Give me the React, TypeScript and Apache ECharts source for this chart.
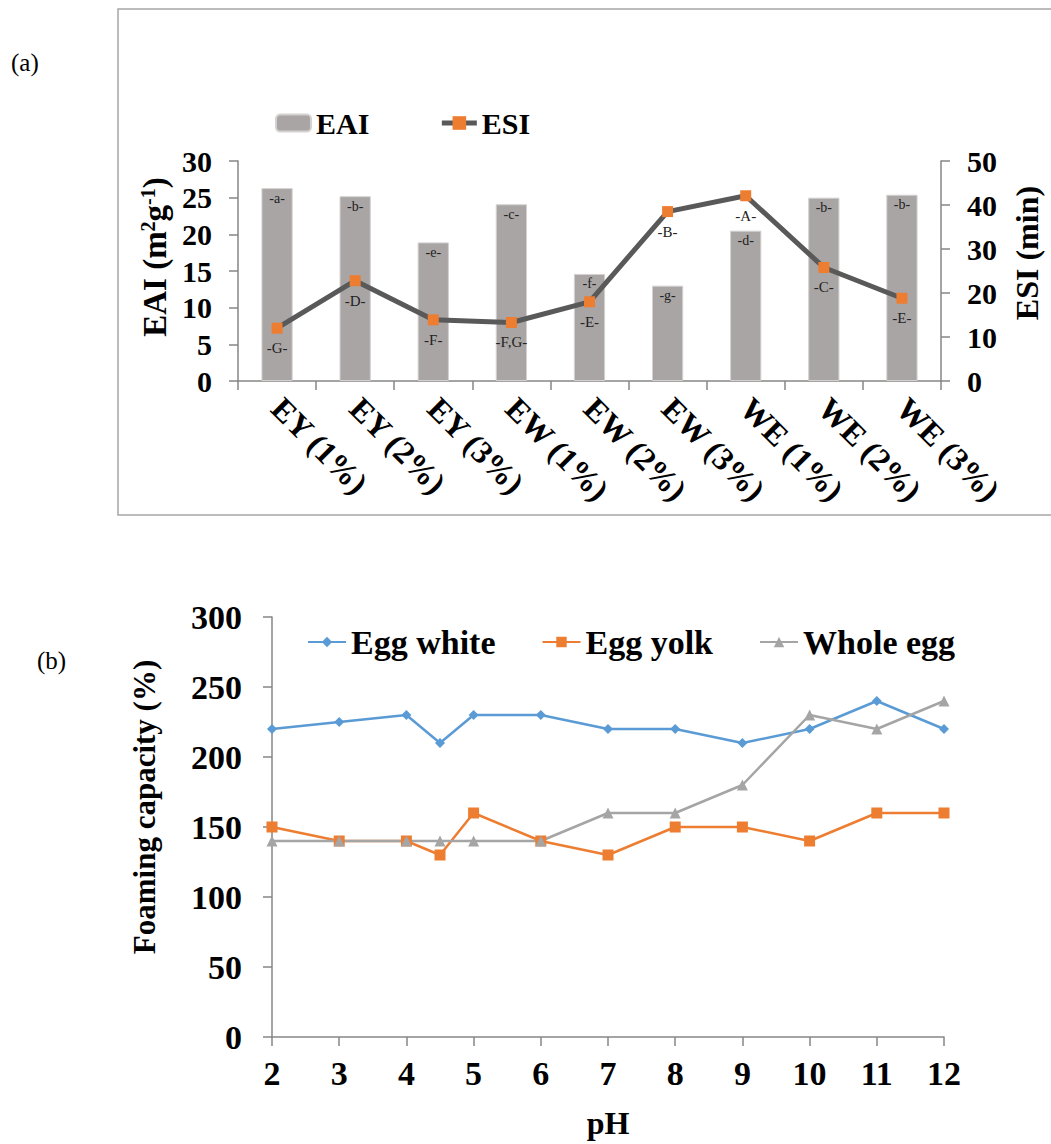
import React, { useEffect, useRef } from "react";
import * as echarts from "echarts";

// Panel (a): emulsifying activity (EAI, bars) and stability (ESI, line)
const categories = ["EY (1%)", "EY (2%)", "EY (3%)", "EW (1%)", "EW (2%)", "EW (3%)", "WE (1%)", "WE (2%)", "WE (3%)"];
const eaiValues = [26.3, 25.2, 18.9, 24.1, 14.6, 13.0, 20.5, 25.0, 25.4];
const esiValues = [12.0, 22.8, 13.9, 13.3, 18.0, 38.5, 42.1, 25.8, 18.8];
const eaiLetters = ["-a-", "-b-", "-e-", "-c-", "-f-", "-g-", "-d-", "-b-", "-b-"];
const esiLetters = ["-G-", "-D-", "-F-", "-F,G-", "-E-", "-B-", "-A-", "-C-", "-E-"];

// Panel (b): foaming capacity against pH
const phValues = [2, 3, 4, 4.5, 5, 6, 7, 8, 9, 10, 11, 12];
const eggWhite = [220, 225, 230, 210, 230, 230, 220, 220, 210, 220, 240, 220];
const eggYolk = [150, 140, 140, 130, 160, 140, 130, 150, 150, 140, 160, 160];
const wholeEgg = [140, 140, 140, 140, 140, 140, 160, 160, 180, 230, 220, 240];

const FONT = "'Liberation Serif', 'Times New Roman', serif";
const AXIS_GREY = "#868686";
const ESI_LINE = "#595959";

const pairs = (ys: number[]) => phValues.map((x, i) => [x, ys[i]]);

export default function App() {
  const ref = useRef<HTMLDivElement>(null);

  useEffect(() => {
    if (!ref.current) return;
    const chart = echarts.init(ref.current, undefined, { renderer: "svg" });

    const axisLine = { show: true, lineStyle: { color: AXIS_GREY, width: 1.5 } };
    const axisTick = { show: true, inside: false, length: 9, lineStyle: { color: AXIS_GREY, width: 1.5 } };
    const boldText = (size: number) => ({
      fontFamily: FONT,
      fontWeight: "bold" as const,
      fontSize: size,
      color: "#000",
    });

    chart.setOption({
      animation: false,
      backgroundColor: "#fff",
      textStyle: { fontFamily: FONT },
      graphic: [
        {
          type: "rect",
          shape: { x: 118, y: 9, width: 1000, height: 506 },
          style: { fill: "none", stroke: "#a6a6a6", lineWidth: 1.5 },
          silent: true,
        },
        {
          type: "text",
          x: 11,
          y: 62,
          style: { text: "(a)", fontFamily: FONT, fontSize: 25, fill: "#000", verticalAlign: "middle" },
        },
        {
          type: "text",
          x: 37,
          y: 660,
          style: { text: "(b)", fontFamily: FONT, fontSize: 25, fill: "#000", verticalAlign: "middle" },
        },
      ],
      legend: [
        {
          left: 275,
          top: 108,
          padding: 0,
          itemWidth: 35,
          itemHeight: 17,
          itemGap: 70,
          data: [
            { name: "EAI" },
            { name: "ESI", lineStyle: { width: 5, color: ESI_LINE } },
          ],
          textStyle: boldText(30),
        },
        {
          left: 307,
          top: 625,
          padding: 0,
          itemWidth: 38,
          itemHeight: 13,
          itemGap: 46,
          data: ["Egg white", "Egg yolk", "Whole egg"],
          textStyle: boldText(34),
        },
      ],
      grid: [
        { left: 238, top: 161, width: 712, height: 220 },
        { left: 272, top: 617, width: 672, height: 420 },
      ],
      xAxis: [
        {
          gridIndex: 0,
          type: "category",
          data: categories,
          boundaryGap: true,
          axisLine,
          axisTick: { ...axisTick, alignWithLabel: false },
          axisLabel: { ...boldText(32), rotate: -45, margin: 22, interval: 0 },
          splitLine: { show: false },
        },
        {
          gridIndex: 1,
          type: "value",
          min: 2,
          max: 12,
          interval: 1,
          axisLine,
          axisTick,
          axisLabel: { ...boldText(34), margin: 19 },
          splitLine: { show: false },
          name: "pH",
          nameLocation: "middle",
          nameGap: 70,
          nameTextStyle: boldText(32),
        },
      ],
      yAxis: [
        {
          gridIndex: 0,
          type: "value",
          min: 0,
          max: 30,
          interval: 5,
          axisLine,
          axisTick,
          axisLabel: { ...boldText(30), margin: 26 },
          splitLine: { show: false },
          name: "EAI (m{sup|2}g{sup|-1})",
          nameLocation: "middle",
          nameRotate: 90,
          nameGap: 64,
          nameTextStyle: {
            ...boldText(33),
            padding: [0, 0, 0, 28],
            rich: {
              sup: { ...boldText(20), verticalAlign: "top", lineHeight: 20 },
            },
          },
        },
        {
          gridIndex: 0,
          type: "value",
          position: "right",
          min: 0,
          max: 50,
          interval: 10,
          axisLine,
          axisTick,
          axisLabel: { ...boldText(30), margin: 26 },
          splitLine: { show: false },
          name: "ESI (min)",
          nameLocation: "middle",
          nameRotate: 90,
          nameGap: 70,
          nameTextStyle: { ...boldText(32), padding: [0, 0, 0, 36] },
        },
        {
          gridIndex: 1,
          type: "value",
          min: 0,
          max: 300,
          interval: 50,
          axisLine,
          axisTick,
          axisLabel: { ...boldText(34), margin: 30 },
          splitLine: { show: false },
          name: "Foaming capacity (%)",
          nameLocation: "middle",
          nameRotate: 90,
          nameGap: 112,
          nameTextStyle: { ...boldText(31), padding: [0, 0, 0, 40] },
        },
      ],
      series: [
        {
          name: "EAI",
          type: "bar",
          xAxisIndex: 0,
          yAxisIndex: 0,
          data: eaiValues,
          barWidth: "40%",
          itemStyle: { color: "#a9a5a4", borderColor: "#d4d1d0", borderWidth: 1 },
          label: {
            show: true,
            position: "insideTop",
            distance: 3,
            formatter: (p: any) => eaiLetters[p.dataIndex],
            fontFamily: FONT,
            fontSize: 14,
            color: "#222",
          },
          z: 2,
        },
        {
          name: "ESI",
          type: "line",
          xAxisIndex: 0,
          yAxisIndex: 1,
          data: esiValues,
          symbol: "rect",
          symbolSize: 11,
          lineStyle: { color: ESI_LINE, width: 5 },
          itemStyle: { color: "#ED7D31" },
          label: {
            show: true,
            position: "bottom",
            distance: 7,
            formatter: (p: any) => esiLetters[p.dataIndex],
            fontFamily: FONT,
            fontSize: 15,
            color: "#222",
          },
          z: 3,
        },
        {
          name: "Egg white",
          type: "line",
          xAxisIndex: 1,
          yAxisIndex: 2,
          data: pairs(eggWhite),
          symbol: "diamond",
          symbolSize: 10,
          lineStyle: { color: "#5B9BD5", width: 2.5 },
          itemStyle: { color: "#5B9BD5" },
        },
        {
          name: "Egg yolk",
          type: "line",
          xAxisIndex: 1,
          yAxisIndex: 2,
          data: pairs(eggYolk),
          symbol: "rect",
          symbolSize: 11,
          lineStyle: { color: "#ED7D31", width: 2.5 },
          itemStyle: { color: "#ED7D31" },
        },
        {
          name: "Whole egg",
          type: "line",
          xAxisIndex: 1,
          yAxisIndex: 2,
          data: pairs(wholeEgg),
          symbol: "triangle",
          symbolSize: 11,
          lineStyle: { color: "#A5A5A5", width: 2.5 },
          itemStyle: { color: "#A5A5A5" },
        },
      ],
    });

    return () => chart.dispose();
  }, []);

  return (
    <div
      ref={ref}
      style={{ position: "absolute", left: 0, top: 0, width: 1051, height: 1144, background: "#fff" }}
    />
  );
}
